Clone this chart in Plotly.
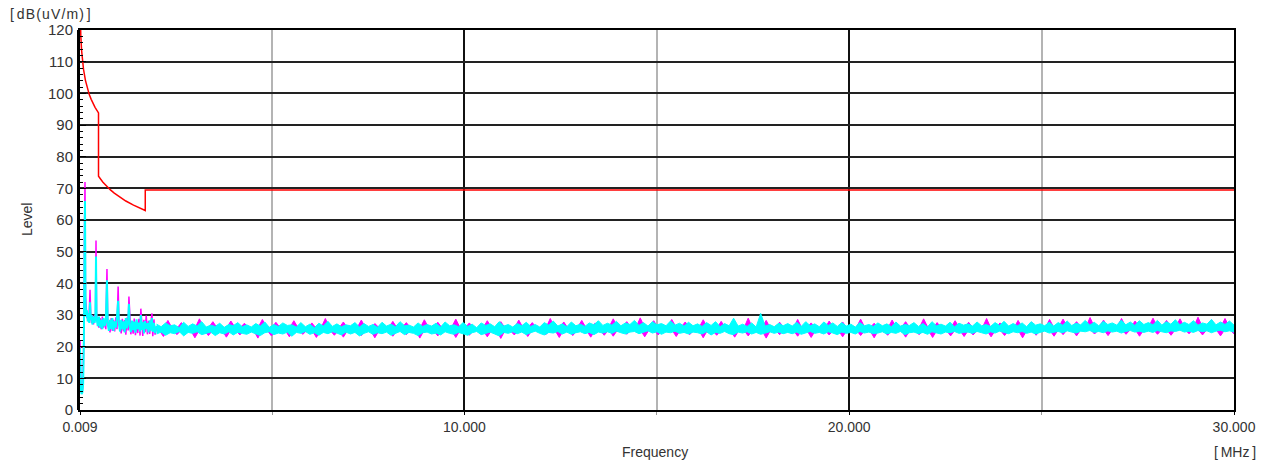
import numpy as np
import plotly.graph_objects as go

# ---------------- data ----------------
# Limit line (frequency MHz, level dB(uV/m))
limit_freq = [0.009, 0.01, 0.02, 0.03, 0.05, 0.07, 0.1, 0.15, 0.2, 0.25, 0.3, 0.35, 0.4, 0.49,
              0.49, 0.6, 0.7, 0.8, 0.9, 1.0, 1.2, 1.4, 1.6, 1.705,
              1.705, 30.0]
limit_level = [128.5, 127.6, 121.6, 118.1, 113.6, 110.7, 107.6, 104.1, 101.6, 99.6, 98.1, 96.7, 95.6, 93.8,
               73.8, 72.0, 70.7, 69.5, 68.5, 67.6, 66.0, 64.7, 63.5, 63.0,
               69.5, 69.5]

# Low-frequency part of the scans (0.009 .. 2 MHz)
start_freq = [0.009, 0.02, 0.035, 0.05, 0.07, 0.09, 0.11, 0.125, 0.139, 0.152,
              0.17, 0.19, 0.21, 0.23, 0.25, 0.27, 0.29, 0.31, 0.33, 0.36,
              0.39, 0.41, 0.425, 0.44, 0.47, 0.50, 0.53, 0.56, 0.59, 0.62,
              0.65, 0.68, 0.71, 0.73, 0.76, 0.79, 0.82, 0.85, 0.88, 0.91,
              0.94, 0.97, 1.00, 1.02, 1.05, 1.08, 1.11, 1.14, 1.17, 1.20,
              1.23, 1.26, 1.28, 1.30, 1.33, 1.36, 1.39, 1.42, 1.45, 1.48,
              1.51, 1.54, 1.57, 1.59, 1.61, 1.64, 1.67, 1.70, 1.73, 1.76,
              1.79, 1.82, 1.85, 1.88, 1.90, 1.93, 1.96, 2.0]
start_cyan = [19.5, 11, 6, 5, 5.5, 8, 22, 48, 66, 34,
              29.5, 31.5, 28, 30.5, 27.5, 34, 28.5, 30, 27, 29.5,
              27.5, 30, 48.5, 29, 26.5, 29.5, 26, 28.5, 25.5, 29,
              26.5, 28, 41, 27, 25, 28.5, 25.5, 29, 25, 28,
              26, 29.5, 34.5, 27, 24.8, 28.5, 25.5, 28, 24.5, 29,
              25.8, 28.3, 33.5, 26.5, 24.6, 28.2, 25.2, 27.9, 24.4, 28.6,
              25.5, 27.6, 24.8, 30, 25.3, 27.8, 24.2, 28.1, 25.6, 27.4,
              24.5, 28.3, 25.1, 29, 24.7, 27.5, 24.3, 26.5]
start_magenta = [22, 13, 7, 5.5, 6, 9, 25, 55, 72, 36,
                 31, 29, 30.5, 28, 31, 38, 29, 27.5, 30, 27,
                 30, 28, 53.5, 30, 27.5, 26, 29, 25.5, 29.5, 26,
                 28.5, 25.5, 44.5, 28, 26.5, 24.5, 29, 25, 28.5, 24.8,
                 29.3, 25.5, 39, 28.5, 26.3, 24.2, 28.8, 24.9, 28.4, 23.8,
                 29.2, 25.1, 35.8, 28, 23.9, 27.1, 24.1, 28.9, 23.6, 27.7,
                 24.3, 28.8, 23.5, 32, 26.8, 23.4, 28.5, 24.6, 29.8, 23.9,
                 28.2, 24.0, 27.6, 30.5, 23.3, 28.6, 23.8, 26.0]

# Rest of the sweep (2 .. 30 MHz): upper / lower envelope of each dense trace
cyan_upper = [
    27.1, 26.3, 27.5, 26.6, 26.9, 26.0, 27.7, 26.4, 27.2, 26.5, 27.9, 26.2, 26.8, 26.4, 27.4, 26.1, 27.0, 26.6, 27.6, 26.3,
    26.9, 26.2, 27.3, 26.5, 27.8, 26.1, 27.0, 26.4, 27.5, 26.7, 26.9, 26.2, 27.6, 26.3, 27.1, 26.0, 27.4, 26.5, 28.0, 26.4,
    27.2, 26.3, 26.9, 26.6, 27.6, 26.2, 27.3, 26.4, 27.0, 26.1, 27.7, 26.5, 27.1, 26.3, 27.9, 26.6, 26.8, 26.2, 27.5, 26.4,
    27.0, 26.5, 27.4, 26.2, 27.8, 26.6, 26.9, 26.3, 27.6, 26.4, 27.1, 26.0, 27.5, 26.7, 27.2, 26.3, 27.9, 26.5, 27.0, 26.2,
    27.3, 26.6, 27.7, 26.4, 27.0, 26.2, 27.6, 26.8, 28.1, 26.5, 27.2, 26.3, 27.8, 26.6, 27.1, 26.4, 27.5, 26.9, 28.2, 26.7,
    27.4, 26.8, 28.0, 26.6, 27.5, 27.0, 28.3, 26.7, 27.6, 26.5, 27.9, 26.9, 27.3, 26.6, 28.1, 26.8, 27.4, 26.5, 27.7, 26.6,
    27.2, 26.4, 27.6, 26.7, 27.9, 26.3, 27.3, 26.6, 29.0, 26.5, 27.1, 26.4, 27.5, 26.2, 30.5, 26.5, 27.0, 26.3, 27.4, 26.6,
    27.3, 26.5, 27.7, 26.4, 27.9, 26.6, 27.2, 26.3, 27.8, 26.7, 27.5, 26.4, 27.6, 26.5, 27.1, 26.2, 27.6, 26.6, 27.0, 26.4,
    27.5, 26.6, 27.2, 26.3, 27.8, 26.5, 27.0, 26.7, 27.6, 26.4, 27.3, 26.2, 27.9, 26.6, 27.1, 26.5, 27.7, 26.3, 27.4, 26.8,
    27.2, 26.5, 27.8, 26.6, 27.0, 26.4, 27.6, 26.7, 28.0, 26.5, 27.3, 26.6, 27.5, 26.3, 27.9, 26.8, 27.2, 26.6, 27.7, 26.5,
    27.6, 26.8, 28.1, 26.7, 27.4, 26.9, 28.3, 26.8, 27.7, 26.6, 28.0, 27.0, 27.5, 26.8, 28.4, 26.9, 27.8, 26.7, 28.2, 27.0,
    27.6, 26.9, 28.3, 26.8, 27.9, 27.1, 28.5, 26.9, 27.7, 27.0, 28.2, 26.8, 27.5, 27.1, 28.6, 26.9, 27.8, 27.0, 28.1, 26.8,
]
cyan_lower = [
    24.0, 24.6, 23.6, 24.4, 24.1, 24.8, 23.4, 24.5, 24.2, 24.7, 23.8, 24.3, 24.6, 23.5, 24.4, 24.0, 24.7, 23.7, 24.5, 24.2,
    23.9, 24.6, 24.1, 23.5, 24.4, 24.7, 23.8, 24.3, 24.0, 24.6, 23.3, 24.5, 24.2, 24.8, 23.9, 24.4, 23.6, 24.5, 24.1, 24.7,
    24.3, 23.7, 24.6, 24.0, 24.5, 23.4, 24.2, 24.7, 23.9, 24.4, 24.1, 24.6, 23.6, 24.3, 24.8, 23.8, 24.5, 24.2, 23.5, 24.4,
    24.6, 24.0, 24.3, 23.7, 24.7, 24.2, 23.9, 24.5, 24.1, 23.6, 24.4, 24.8, 23.8, 24.3, 24.6, 24.0, 23.4, 24.5, 24.2, 24.7,
    24.1, 24.6, 23.8, 24.4, 24.9, 24.2, 23.7, 24.5, 24.3, 24.8, 24.0, 24.6, 23.9, 24.4, 24.7, 24.1, 24.5, 23.8, 24.6, 24.3,
    24.7, 24.2, 24.9, 24.4, 24.0, 24.6, 24.8, 24.1, 24.5, 25.0, 24.3, 24.7, 23.9, 24.6, 24.4, 24.9, 24.2, 24.5, 24.0, 24.6,
    24.4, 24.0, 24.7, 23.7, 24.5, 24.2, 24.8, 24.1, 23.8, 24.6, 24.3, 24.7, 24.0, 24.5, 23.9, 24.4, 24.7, 24.2, 24.6, 24.1,
    24.5, 24.1, 24.6, 23.9, 24.4, 24.8, 24.2, 24.5, 24.0, 24.7, 24.3, 23.8, 24.6, 24.2, 24.5, 24.0, 24.8, 24.3, 24.6, 24.1,
    24.3, 24.7, 24.0, 24.5, 24.2, 24.8, 23.8, 24.4, 24.6, 24.1, 24.5, 23.9, 24.7, 24.3, 24.0, 24.6, 24.4, 24.8, 24.2, 24.5,
    24.6, 24.2, 24.8, 24.4, 24.0, 24.7, 24.3, 24.9, 24.5, 24.1, 24.7, 24.4, 24.8, 24.2, 24.6, 24.0, 24.5, 24.9, 24.3, 24.6,
    24.8, 24.4, 25.0, 24.6, 24.3, 24.9, 24.7, 25.1, 24.5, 24.8, 24.4, 25.0, 24.6, 24.9, 24.3, 24.8, 25.1, 24.6, 24.9, 24.5,
    24.9, 24.5, 25.1, 24.7, 24.4, 25.0, 24.8, 25.2, 24.6, 24.9, 24.5, 25.1, 24.7, 25.0, 24.4, 24.9, 25.2, 24.7, 25.0, 24.6,
]
magenta_upper = [
    25.8, 25.9, 28.3, 25.7, 25.8, 27.6, 25.9, 25.8, 25.7, 28.8, 25.8, 25.9, 27.9, 25.8, 25.7, 25.8, 28.1, 25.9, 25.8, 27.4,
    25.8, 25.7, 25.9, 28.6, 25.8, 25.8, 27.7, 25.9, 25.7, 25.8, 28.2, 25.8, 25.9, 25.8, 27.5, 25.7, 25.8, 28.9, 25.8, 25.9,
    25.8, 27.8, 25.7, 25.9, 25.8, 28.4, 25.8, 25.7, 27.3, 25.9, 25.8, 25.8, 28.0, 25.7, 25.9, 27.6, 25.8, 25.8, 25.7, 28.5,
    25.9, 25.8, 27.7, 25.8, 25.7, 25.9, 28.7, 25.8, 25.8, 27.5, 25.9, 25.7, 25.8, 28.2, 25.8, 25.9, 27.9, 25.8, 25.7, 25.8,
    28.4, 25.8, 25.9, 27.6, 25.8, 25.7, 25.8, 28.9, 25.9, 25.8, 27.8, 25.7, 25.8, 25.9, 28.3, 25.8, 25.7, 27.5, 25.8, 25.9,
    26.0, 28.8, 26.0, 26.1, 27.9, 26.0, 25.9, 29.1, 26.0, 26.1, 28.2, 26.0, 25.9, 26.0, 28.6, 26.1, 26.0, 27.8, 26.0, 26.1,
    25.8, 28.5, 25.9, 25.8, 25.7, 28.0, 25.8, 25.9, 27.6, 25.8, 25.7, 29.0, 25.8, 25.9, 25.8, 28.3, 25.7, 25.8, 27.7, 25.9,
    25.8, 25.8, 28.6, 25.7, 25.9, 27.5, 25.8, 25.8, 25.7, 28.1, 25.9, 25.8, 27.8, 25.8, 25.7, 25.9, 28.7, 25.8, 25.8, 27.4,
    25.9, 25.8, 25.7, 28.4, 25.8, 25.9, 27.9, 25.8, 25.7, 25.8, 28.8, 25.9, 25.8, 27.6, 25.8, 25.7, 25.9, 28.2, 25.8, 25.8,
    27.7, 25.8, 25.9, 25.8, 28.9, 25.7, 25.8, 27.5, 25.9, 25.8, 25.7, 28.3, 25.8, 25.9, 27.8, 25.8, 25.7, 25.8, 28.6, 25.9,
    26.1, 28.7, 26.0, 26.2, 27.9, 26.1, 26.0, 29.2, 26.1, 26.2, 28.4, 26.0, 26.1, 26.2, 28.9, 26.1, 26.0, 28.1, 26.2, 26.1,
    26.2, 29.0, 26.1, 26.2, 28.3, 26.1, 26.2, 28.8, 26.0, 26.2, 26.1, 29.3, 26.2, 26.1, 28.5, 26.2, 26.0, 28.9, 26.1, 26.2,
]
magenta_lower = [
    25.3, 23.2, 25.3, 25.3, 23.8, 25.3, 25.3, 25.3, 22.8, 25.3, 25.3, 23.5, 25.3, 25.3, 25.3, 23.0, 25.3, 25.3, 23.7, 25.3,
    25.3, 25.3, 22.7, 25.3, 25.3, 23.4, 25.3, 25.3, 25.3, 23.1, 25.3, 25.3, 23.9, 25.3, 25.3, 22.9, 25.3, 25.3, 25.3, 23.6,
    25.3, 23.0, 25.3, 25.3, 25.3, 23.5, 25.3, 25.3, 22.8, 25.3, 25.3, 25.3, 23.3, 25.3, 25.3, 23.8, 25.3, 25.3, 22.7, 25.3,
    25.3, 25.3, 23.4, 25.3, 25.3, 25.3, 22.9, 25.3, 25.3, 23.6, 25.3, 25.3, 25.3, 23.1, 25.3, 25.3, 22.6, 25.3, 25.3, 23.7,
    25.3, 25.3, 23.2, 25.3, 25.3, 25.3, 23.8, 25.3, 25.3, 22.9, 25.3, 25.3, 23.5, 25.3, 25.3, 25.3, 23.0, 25.3, 25.3, 23.6,
    25.4, 23.3, 25.4, 25.4, 23.9, 25.4, 25.4, 25.4, 23.1, 25.4, 25.4, 23.7, 25.4, 25.4, 25.4, 23.2, 25.4, 25.4, 23.8, 25.4,
    25.3, 22.8, 25.3, 25.3, 23.6, 25.3, 25.3, 25.3, 23.0, 25.3, 25.3, 23.4, 25.3, 25.3, 25.3, 22.7, 25.3, 25.3, 23.8, 25.3,
    25.3, 25.3, 23.3, 25.3, 25.3, 22.9, 25.3, 25.3, 25.3, 23.7, 25.3, 25.3, 23.1, 25.3, 25.3, 25.3, 23.5, 25.3, 25.3, 22.8,
    25.3, 25.3, 23.6, 25.3, 25.3, 25.3, 23.0, 25.3, 25.3, 23.8, 25.3, 25.3, 22.9, 25.3, 25.3, 25.3, 23.4, 25.3, 25.3, 23.2,
    25.3, 23.7, 25.3, 25.3, 25.3, 23.1, 25.3, 25.3, 23.5, 25.3, 25.3, 25.3, 22.8, 25.3, 25.3, 23.6, 25.3, 25.3, 25.3, 23.3,
    25.5, 23.8, 25.5, 25.5, 23.4, 25.5, 25.5, 25.5, 24.0, 25.5, 25.5, 23.5, 25.5, 25.5, 25.5, 23.9, 25.5, 25.5, 23.3, 25.5,
    25.5, 25.5, 23.9, 25.5, 25.5, 23.6, 25.5, 25.5, 25.5, 24.1, 25.5, 25.5, 23.7, 25.5, 25.5, 25.5, 23.4, 25.5, 25.5, 24.0,
]
env_freq_cyan = np.linspace(2.0, 30.0, len(cyan_upper))          # sweep grid
env_freq_magenta = np.linspace(2.06, 30.0, len(magenta_upper))   # sweep grid

x_tickvals = [0.009, 10, 20, 30]
x_ticktext = ["0.009", "10.000", "20.000", "30.000"]
y_tickvals = list(range(0, 121, 10))

# ---------------- figure ----------------
FONT = "Liberation Sans, Arial, sans-serif"
MAG = "#ff00ff"
CYA = "#00ffff"
fig = go.Figure()

# magenta trace
fig.add_trace(go.Scatter(x=start_freq, y=start_magenta, mode="lines",
                         line=dict(color=MAG, width=1.5), hoverinfo="skip", showlegend=False))
fig.add_trace(go.Scatter(x=env_freq_magenta, y=magenta_upper, mode="lines",
                         line=dict(color=MAG, width=1), hoverinfo="skip", showlegend=False))
fig.add_trace(go.Scatter(x=env_freq_magenta, y=magenta_lower, mode="lines", fill="tonexty",
                         fillcolor=MAG, line=dict(color=MAG, width=1), hoverinfo="skip", showlegend=False))
# cyan trace
fig.add_trace(go.Scatter(x=start_freq, y=start_cyan, mode="lines",
                         line=dict(color=CYA, width=2), hoverinfo="skip", showlegend=False))
fig.add_trace(go.Scatter(x=env_freq_cyan, y=cyan_upper, mode="lines",
                         line=dict(color=CYA, width=1), hoverinfo="skip", showlegend=False))
fig.add_trace(go.Scatter(x=env_freq_cyan, y=cyan_lower, mode="lines", fill="tonexty",
                         fillcolor=CYA, line=dict(color=CYA, width=1), hoverinfo="skip", showlegend=False))
# limit line
fig.add_trace(go.Scatter(x=limit_freq, y=limit_level, mode="lines",
                         line=dict(color="#ff0000", width=1.5), hoverinfo="skip", showlegend=False))

fig.update_layout(
    width=1271, height=464,
    margin=dict(l=80, r=37, t=30, b=54),
    paper_bgcolor="white", plot_bgcolor="white",
    font=dict(family=FONT, size=14, color="#333333"),
    showlegend=False,
)
fig.update_xaxes(
    range=[0.009, 30], tickmode="array", tickvals=x_tickvals, ticktext=x_ticktext,
    showgrid=True, gridcolor="#111111", gridwidth=1.5,
    showline=True, linecolor="black", linewidth=2, mirror=True,
    ticks="outside", ticklen=3, tickcolor="black",
    minor=dict(tick0=5, dtick=10, showgrid=True, gridcolor="#b4b4b4", gridwidth=1.5,
               ticks="outside", ticklen=3, tickcolor="#999999"),
    tickfont=dict(size=14, color="#333333"),
    zeroline=False,
)
fig.update_yaxes(
    range=[0, 120], tickmode="array", tickvals=y_tickvals,
    showgrid=True, gridcolor="#222222", gridwidth=1.5,
    showline=True, linecolor="black", linewidth=2, mirror=True,
    ticks="inside", ticklen=6, tickcolor="black",
    minor=dict(dtick=2, ticks="inside", ticklen=3, tickcolor="black", showgrid=False),
    tickfont=dict(size=15, color="#333333"),
    ticklabelstandoff=2,
    zeroline=False,
)

# thicker left axis line (drawn under the traces)
fig.add_shape(type="line", xref="paper", yref="paper", x0=-1.5/1154, x1=-1.5/1154, y0=0, y1=1,
              line=dict(color="black", width=3), layer="below")

TS = "\u2009"
HS = "\u200a"
fig.add_annotation(text="[" + TS + HS.join("dB(uV/m)") + TS + "]", xref="paper", yref="paper",
                   x=-72/1154, y=1 + 16/380, xanchor="left", yanchor="middle",
                   showarrow=False, font=dict(size=14, color="#333333"))
fig.add_annotation(text="Level", xref="paper", yref="paper",
                   x=-53/1154, y=0.5, textangle=-90, xanchor="center", yanchor="middle",
                   showarrow=False, font=dict(size=14, color="#333333"))
fig.add_annotation(text="Frequency", xref="paper", yref="paper",
                   x=575/1154, y=-42/380, xanchor="center", yanchor="middle",
                   showarrow=False, font=dict(size=14, color="#333333"))
fig.add_annotation(text="[" + TS + "MHz" + TS + "]", xref="paper", yref="paper",
                   x=1 + 1/1154, y=-42/380, xanchor="center", yanchor="middle",
                   showarrow=False, font=dict(size=14, color="#333333"))

fig.write_html("out.html")
